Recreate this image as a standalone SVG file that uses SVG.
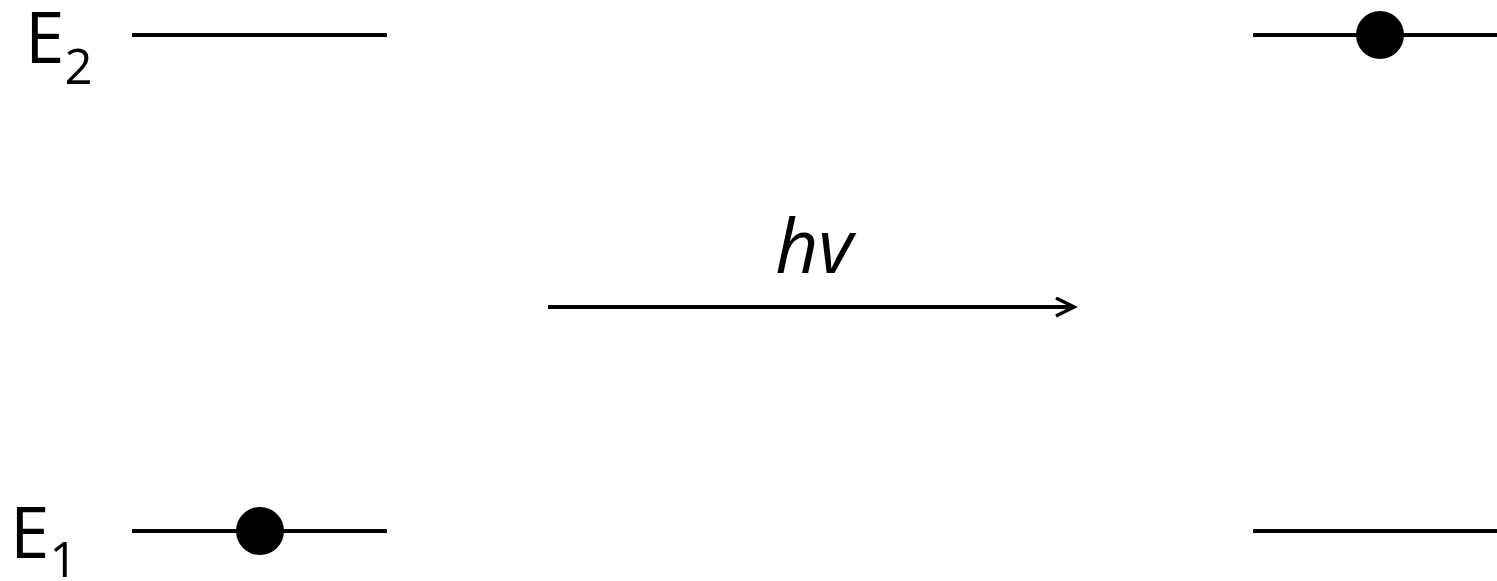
<svg xmlns="http://www.w3.org/2000/svg" width="1497" height="581" viewBox="0 0 1497 581">
<style>
.lvl{stroke:#000;stroke-width:4;fill:none}
.dot{fill:#000}
.lbl{font-family:"Open Sans","DejaVu Sans",sans-serif;fill:#000}
</style>
<defs>
<marker id="arr" markerWidth="24" markerHeight="24" refX="20" refY="10" orient="auto" markerUnits="userSpaceOnUse">
<path d="M2,1 L20,10 L2,19" fill="none" stroke="#000" stroke-width="3.5"/>
</marker>
</defs>
<rect width="1497" height="581" fill="#fff"/>
<g id="label-E2"><text class="lbl" x="25" y="63" font-size="71">E<tspan font-size="49" dy="21">2</tspan></text></g>
<g id="label-E1"><text class="lbl" x="10" y="558" font-size="71">E<tspan font-size="49" dy="19">1</tspan></text></g>
<g id="left-E2"><line class="lvl" x1="132" y1="35" x2="387" y2="35"/></g>
<g id="left-E1"><line class="lvl" x1="132" y1="531" x2="387" y2="531"/><circle class="dot" cx="260" cy="531" r="24"/></g>
<g id="right-E2"><line class="lvl" x1="1253" y1="35" x2="1497" y2="35"/><circle class="dot" cx="1380" cy="35" r="24"/></g>
<g id="right-E1"><line class="lvl" x1="1253" y1="531" x2="1497" y2="531"/></g>
<g id="connectors"><line x1="548" y1="307" x2="1074" y2="307" stroke="#000" stroke-width="4" marker-end="url(#arr)"/></g>
<g id="label-hv"><text class="lbl" x="814" y="273" font-size="75" font-style="italic" text-anchor="middle">hv</text></g>
</svg>
